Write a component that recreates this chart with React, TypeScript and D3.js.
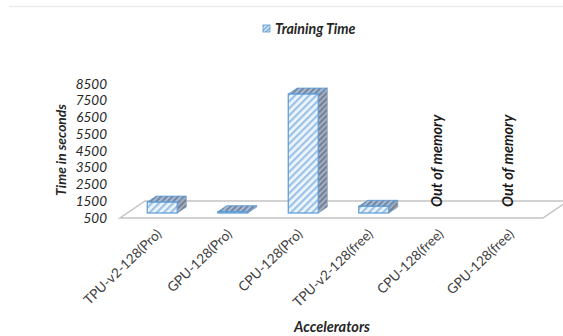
import * as d3 from 'd3'

const categories = ['TPU-v2-128(Pro)', 'GPU-128(Pro)', 'CPU-128(Pro)', 'TPU-v2-128(free)', 'CPU-128(free)', 'GPU-128(free)']
const trainingTime: (number | null)[] = [1150, 580, 7600, 900, null, null]
const yTicks = [500, 1500, 2500, 3500, 4500, 5500, 6500, 7500, 8500]
const missingLabel = 'Out of memory'

const font = 'Lato, "Noto Sans", sans-serif'

const App = () => {
    const width = 563
    const height = 336

    // front edge of the floor
    const x = d3.scaleBand<string>().domain(categories).range([120, 543]).padding(0)
    const y = d3.scaleLinear().domain([500, 8500]).range([218, 84])

    // floor depth offsets (3d look)
    const floorDx = 25
    const floorDy = 17
    const barShiftX = 7
    const barShiftY = 5
    const barW = 30
    const depthX = 9
    const depthY = 6

    const base = y(500)

    return (
        <svg width={width} height={height} style={{ position: 'absolute', left: 0, top: 0 }}>
            <defs>
                <pattern id="front" width="5" height="5" patternUnits="userSpaceOnUse" patternTransform="rotate(45)">
                    <rect width="5" height="5" fill="#eef5fc" />
                    <rect width="2.2" height="5" fill="#9cc2e8" />
                </pattern>
                <pattern id="side" width="4" height="4" patternUnits="userSpaceOnUse" patternTransform="rotate(45)">
                    <rect width="4" height="4" fill="#a3adbb" />
                    <rect width="1.8" height="4" fill="#6f7d91" />
                </pattern>
                <pattern id="top" width="4" height="4" patternUnits="userSpaceOnUse" patternTransform="rotate(45)">
                    <rect width="4" height="4" fill="#a9bad0" />
                    <rect width="1.8" height="4" fill="#6d83a3" />
                </pattern>
                <pattern id="legend" width="3" height="3" patternUnits="userSpaceOnUse" patternTransform="rotate(45)">
                    <rect width="3" height="3" fill="#dbe9f7" />
                    <rect width="1.2" height="3" fill="#5b9bd5" />
                </pattern>
            </defs>

            <line x1={9} x2={563} y1={6.5} y2={6.5} stroke="#ececec" strokeWidth={1.5} />

            {/* legend */}
            <rect x={263} y={25} width={7} height={7} fill="url(#legend)" stroke="#5b9bd5" strokeWidth={0.8} />
            <text x={275} y={33.5} fontFamily={font} fontSize={14.2} fontWeight="bold" fontStyle="italic" fill="#262626">
                Training Time
            </text>

            {/* floor */}
            <path
                d={`M${x.range()[0]},${base} L${x.range()[1]},${base} L${x.range()[1] + floorDx},${base - floorDy} L${x.range()[0] + floorDx},${base - floorDy} Z`}
                fill="none"
                stroke="#c4c4c4"
                strokeWidth={1.5}
            />

            {/* y axis labels */}
            {yTicks.map(t => (
                <text key={t} x={107} y={y(t)} dy="0.35em" textAnchor="end" fontFamily={font} fontSize={13.5} fontStyle="italic" fill="#262626">
                    {t}
                </text>
            ))}
            <text
                transform={`translate(66,150) rotate(-90)`}
                textAnchor="middle"
                fontFamily={font}
                fontSize={13.8}
                fontWeight="bold"
                fontStyle="italic"
                fill="#262626"
            >
                Time in seconds
            </text>

            {/* bars */}
            {categories.map((c, i) => {
                const v = trainingTime[i]
                const cx = x(c)! + x.bandwidth() / 2 + barShiftX
                if (v === null) {
                    return (
                        <text
                            key={c}
                            transform={`translate(${cx - 2},${base - barShiftY - 6}) rotate(-90)`}
                            fontFamily={font}
                            fontSize={14.5}
                            fontWeight="bold"
                            fontStyle="italic"
                            fill="#1a1a1a"
                        >
                            {missingLabel}
                        </text>
                    )
                }
                const x0 = cx - barW / 2
                const x1 = cx + barW / 2
                const yb = base - barShiftY
                const yt = y(v) - barShiftY
                return (
                    <g key={c}>
                        <path
                            d={`M${x1},${yb} L${x1 + depthX},${yb - depthY} L${x1 + depthX},${yt - depthY} L${x1},${yt} Z`}
                            fill="url(#side)"
                            stroke="#7f9cc0"
                            strokeWidth={0.8}
                        />
                        <path
                            d={`M${x0},${yt} L${x1},${yt} L${x1 + depthX},${yt - depthY} L${x0 + depthX},${yt - depthY} Z`}
                            fill="url(#top)"
                            stroke="#5b9bd5"
                            strokeWidth={0.8}
                        />
                        <rect x={x0} y={yt} width={barW} height={yb - yt} fill="url(#front)" stroke="#5b9bd5" strokeWidth={1.2} />
                    </g>
                )
            })}

            {/* x axis labels */}
            {categories.map(c => {
                const cx = x(c)! + x.bandwidth() / 2
                return (
                    <text
                        key={c}
                        transform={`translate(${cx + 7},${235}) rotate(-44)`}
                        textAnchor="end"
                        fontFamily={font}
                        fontSize={13.5}
                        fill="#404040"
                    >
                        {c}
                    </text>
                )
            })}
            <text x={332} y={332} textAnchor="middle" fontFamily={font} fontSize={14.5} fontWeight="bold" fontStyle="italic" fill="#262626">
                Accelerators
            </text>
        </svg>
    )
}

export default App
